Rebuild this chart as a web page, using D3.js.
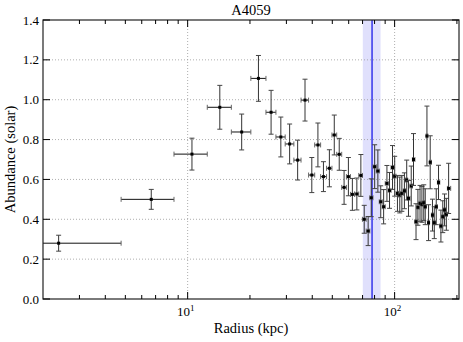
<!DOCTYPE html>
<html>
<head>
<meta charset="utf-8">
<script src="https://cdn.jsdelivr.net/npm/d3@7"></script>
<style>
  body { margin: 0; background: #fff; }
  text { font-family: "Liberation Serif", "DejaVu Serif", serif; }
</style>
</head>
<body>
<svg id="chart"></svg>
<script>
// bin centres (kpc)
const radius = [2.38, 6.67, 10.49, 14.3, 18.24, 21.98, 25.3, 28.2, 31.1, 34.0,
  36.9, 39.8, 42.6, 45.3, 48.4, 51.1, 54.0, 57.0, 59.8, 62.5,
  65.7, 68.7, 71.3, 74.5, 77.1, 80.1, 83.0, 85.7, 88.5, 91.8,
  94.5, 97.7, 100.1, 103.2, 105.9, 108.4, 111.5, 114.4, 116.7, 120.3,
  123.4, 126.9, 129.6, 132.7, 135.5, 138.3, 140.6, 143.3, 145.9, 148.6,
  152.4, 155.5, 158.9, 163.0, 167.4, 170.9, 174.3, 177.8, 182.4];
// bin edges (kpc), one more than centres
const edges = [0.5, 4.77, 8.59, 12.44, 16.26, 20.2, 23.9, 26.7, 29.6, 32.6, 35.3,
  38.4, 41.1, 43.9, 46.9, 49.8, 52.5, 55.5, 58.5, 61.2, 64.1,
  67.1, 69.9, 72.9, 75.9, 78.6, 81.5, 84.3, 87.1, 90.1, 93.1,
  96.1, 98.9, 101.6, 104.5, 107.1, 110.1, 113.0, 115.6, 118.6, 121.9,
  125.3, 128.3, 131.2, 134.2, 136.9, 139.6, 142.0, 144.6, 147.3, 150.6,
  154.0, 157.1, 161.0, 165.2, 169.1, 172.6, 176.1, 179.9, 186.6];
const abundance = [0.28, 0.50, 0.727, 0.962, 0.838, 1.107, 0.937, 0.813, 0.778, 0.697,
  0.998, 0.622, 0.773, 0.614, 0.656, 0.823, 0.726, 0.56, 0.614, 0.525,
  0.527, 0.62, 0.40, 0.341, 0.508, 0.664, 0.642, 0.488, 0.463, 0.58,
  0.545, 0.66, 0.616, 0.53, 0.522, 0.53, 0.543, 0.597, 0.505, 0.567,
  0.70, 0.388, 0.46, 0.48, 0.475, 0.483, 0.463, 0.818, 0.383, 0.686,
  0.421, 0.383, 0.463, 0.585, 0.366, 0.413, 0.447, 0.425, 0.555];
const abundanceErr = [0.04, 0.05, 0.08, 0.11, 0.09, 0.115, 0.11, 0.10, 0.10, 0.10,
  0.105, 0.088, 0.11, 0.075, 0.093, 0.10, 0.08, 0.085, 0.096, 0.08,
  0.08, 0.105, 0.07, 0.073, 0.095, 0.11, 0.106, 0.08, 0.086, 0.09,
  0.09, 0.11, 0.10, 0.09, 0.09, 0.09, 0.09, 0.10, 0.09, 0.10,
  0.13, 0.09, 0.09, 0.09, 0.09, 0.09, 0.09, 0.15, 0.09, 0.133,
  0.08, 0.08, 0.09, 0.086, 0.08, 0.08, 0.08, 0.08, 0.126];

const markerRadius = 77.8;
const bandRange = [70.2, 85.5];
const yTicks = [0.0, 0.2, 0.4, 0.6, 0.8, 1.0, 1.2, 1.4];
const xMajor = [10, 100];
const xMinor = [3, 4, 5, 6, 7, 8, 9, 20, 30, 40, 50, 60, 70, 80, 90, 200];

const width = 463, height = 342;
const margin = { top: 20, right: 4, bottom: 43, left: 43 };
const svg = d3.select('#chart').attr('width', width).attr('height', height);

const x = d3.scaleLog().domain([2, 204.7]).range([margin.left, width - margin.right]);
const y = d3.scaleLinear().domain([0, 1.4]).range([height - margin.bottom, margin.top]);
const x0 = margin.left, x1 = width - margin.right;
const y0 = height - margin.bottom, y1 = margin.top;

svg.append('clipPath').attr('id', 'clip')
  .append('rect').attr('x', x0).attr('y', y1).attr('width', x1 - x0).attr('height', y0 - y1);

// shaded band
svg.append('rect')
  .attr('x', x(bandRange[0])).attr('y', y1)
  .attr('width', x(bandRange[1]) - x(bandRange[0])).attr('height', y0 - y1)
  .attr('fill', '#e0e0fc');

// grid
const grid = svg.append('g').attr('stroke', '#999').attr('stroke-width', 0.8)
  .attr('stroke-dasharray', '1,2');
yTicks.slice(1, -1).forEach(v => {
  grid.append('line').attr('x1', x0).attr('x2', x1).attr('y1', y(v)).attr('y2', y(v));
});
xMajor.forEach(v => {
  grid.append('line').attr('x1', x(v)).attr('x2', x(v)).attr('y1', y1).attr('y2', y0);
});

svg.append('line')
  .attr('x1', x(markerRadius)).attr('x2', x(markerRadius))
  .attr('y1', y1).attr('y2', y0)
  .attr('stroke', '#1a1ae8').attr('stroke-width', 1.3);

// error bars
const pts = svg.append('g').attr('clip-path', 'url(#clip)')
  .attr('stroke', '#111').attr('stroke-width', 1).attr('fill', 'none');
const cap = 2.5;
radius.forEach((r, i) => {
  const cx = x(r), cy = y(abundance[i]);
  const xl = x(edges[i]), xr = x(edges[i + 1]);
  const yt = y(abundance[i] + abundanceErr[i]), yb = y(abundance[i] - abundanceErr[i]);
  pts.append('line').attr('x1', xl).attr('x2', xr).attr('y1', cy).attr('y2', cy);
  pts.append('line').attr('x1', xl).attr('x2', xl).attr('y1', cy - cap).attr('y2', cy + cap).attr('stroke', '#666');
  pts.append('line').attr('x1', xr).attr('x2', xr).attr('y1', cy - cap).attr('y2', cy + cap).attr('stroke', '#666');
  pts.append('line').attr('x1', cx).attr('x2', cx).attr('y1', yt).attr('y2', yb).attr('stroke', '#333');
  pts.append('line').attr('x1', cx - cap).attr('x2', cx + cap).attr('y1', yt).attr('y2', yt).attr('stroke', '#444');
  pts.append('line').attr('x1', cx - cap).attr('x2', cx + cap).attr('y1', yb).attr('y2', yb).attr('stroke', '#444');
  pts.append('rect').attr('x', cx - 1.5).attr('y', cy - 1.5).attr('width', 3).attr('height', 3)
    .attr('fill', '#000').attr('stroke', 'none');
});

// frame and ticks
const ax = svg.append('g').attr('stroke', '#000').attr('stroke-width', 1);
ax.append('rect').attr('x', x0).attr('y', y1).attr('width', x1 - x0).attr('height', y0 - y1)
  .attr('fill', 'none').attr('stroke', '#222').attr('stroke-width', 1.2);
xMajor.forEach(v => {
  ax.append('line').attr('x1', x(v)).attr('x2', x(v)).attr('y1', y0).attr('y2', y0 - 7);
  ax.append('line').attr('x1', x(v)).attr('x2', x(v)).attr('y1', y1).attr('y2', y1 + 7);
});
xMinor.forEach(v => {
  if (v > 204.7) return;
  ax.append('line').attr('x1', x(v)).attr('x2', x(v)).attr('y1', y0).attr('y2', y0 - 4);
  ax.append('line').attr('x1', x(v)).attr('x2', x(v)).attr('y1', y1).attr('y2', y1 + 4);
});
yTicks.forEach(v => {
  ax.append('line').attr('x1', x0).attr('x2', x0 + 7).attr('y1', y(v)).attr('y2', y(v));
  ax.append('line').attr('x1', x1).attr('x2', x1 - 7).attr('y1', y(v)).attr('y2', y(v));
});

// tick labels
yTicks.forEach(v => {
  svg.append('text').attr('x', x0 - 4).attr('y', y(v) + 4.5)
    .attr('text-anchor', 'end').attr('font-size', '13px').text(v.toFixed(1));
});
xMajor.forEach((v, i) => {
  const t = svg.append('text').attr('x', x(v) - 2).attr('y', y0 + 17)
    .attr('text-anchor', 'middle').attr('font-size', '13px');
  t.append('tspan').text('10');
  t.append('tspan').attr('dy', -5).attr('font-size', '9px').text(String(i + 1));
});

svg.append('text').attr('x', (x0 + x1) / 2).attr('y', 333)
  .attr('text-anchor', 'middle').attr('font-size', '14.5px').text('Radius (kpc)');
svg.append('text').attr('transform', `translate(15, ${(y0 + y1) / 2}) rotate(-90)`)
  .attr('text-anchor', 'middle').attr('font-size', '14.5px').text('Abundance (solar)');
svg.append('text').attr('x', (x0 + x1) / 2).attr('y', 15)
  .attr('text-anchor', 'middle').attr('font-size', '14.5px').text('A4059');
</script>
</body>
</html>
